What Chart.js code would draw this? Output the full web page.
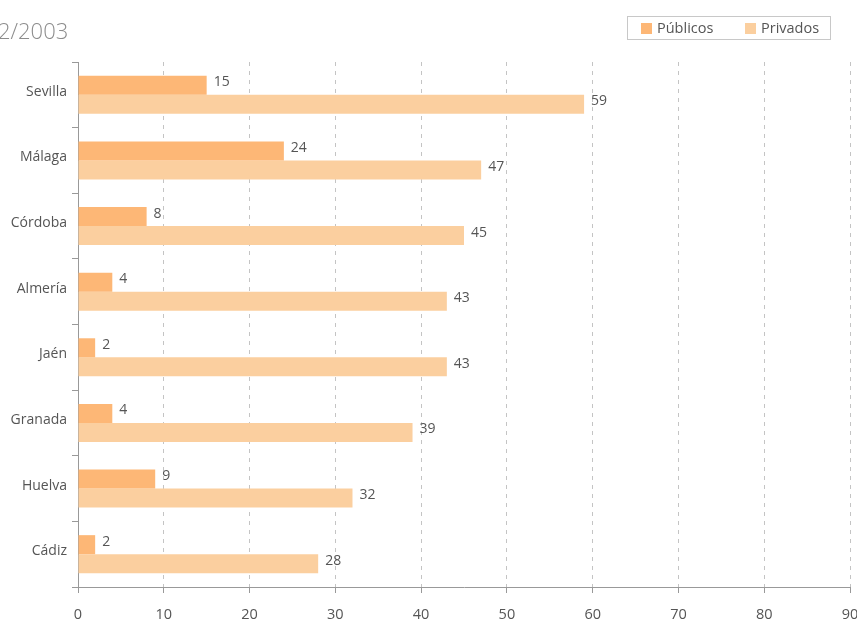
<!DOCTYPE html>
<html>
<head>
<meta charset="utf-8">
<script src="https://cdn.jsdelivr.net/npm/chart.js@4/dist/chart.umd.min.js"></script>
<style>
  html, body { margin: 0; padding: 0; background: #fff; }
  #wrap { position: relative; width: 857px; height: 621px; overflow: hidden; }
  #grafico { position: absolute; left: 0; top: 0; }
  #titulo {
    position: absolute; left: -2px; top: 15px;
    font-family: "Open Sans", sans-serif; font-size: 22px; font-weight: 300;
    color: #8c8c8c; white-space: nowrap;
  }
  #leyenda {
    position: absolute; left: 627px; top: 16px; width: 204px; height: 24px;
    border: 1px solid #c8c8c8; box-sizing: border-box;
    font-family: "Open Sans", sans-serif; font-size: 14.5px; color: #555;
  }
  #leyenda span.item { position: absolute; top: 1px; }
  #leyenda span.caja { display: inline-block; width: 11px; height: 11px; margin-right: 5px; vertical-align: -1px; }
</style>
</head>
<body>
<div id="wrap">
  <canvas id="grafico" width="857" height="621"></canvas>
  <div id="titulo">2/2003</div>
  <div id="leyenda">
    <span class="item" style="left:13px"><span class="caja" style="background:#fdb776"></span>Públicos</span>
    <span class="item" style="left:117px"><span class="caja" style="background:#fbcf9f"></span>Privados</span>
  </div>
</div>
<script>
// Datos del gráfico
const provincias = ['Sevilla', 'Málaga', 'Córdoba', 'Almería', 'Jaén', 'Granada', 'Huelva', 'Cádiz'];
const publicos = [15, 24, 8, 4, 2, 4, 9, 2];
const privados = [59, 47, 45, 43, 43, 39, 32, 28];
const ticksX = [0, 10, 20, 30, 40, 50, 60, 70, 80, 90];

const fuente = '"Open Sans", sans-serif';

// Etiquetas de valor al final de cada barra
const etiquetasValor = {
  id: 'etiquetasValor',
  afterDatasetsDraw(chart) {
    const ctx = chart.ctx;
    ctx.save();
    ctx.font = '14px ' + fuente;
    ctx.fillStyle = '#555';
    ctx.textBaseline = 'middle';
    ctx.textAlign = 'left';
    chart.data.datasets.forEach((ds, i) => {
      chart.getDatasetMeta(i).data.forEach((bar, j) => {
        ctx.fillText(ds.data[j], bar.x + 7, bar.y - 3);
      });
    });
    ctx.restore();
  }
};

const ctx = document.getElementById('grafico').getContext('2d');
const miGrafico = new Chart(ctx, {
  type: 'bar',
  data: {
    labels: provincias,
    datasets: [
      { label: 'Públicos', data: publicos, backgroundColor: '#fdb776', barPercentage: 1, categoryPercentage: 0.58 },
      { label: 'Privados', data: privados, backgroundColor: '#fbcf9f', barPercentage: 1, categoryPercentage: 0.58 }
    ]
  },
  options: {
    indexAxis: 'y',
    responsive: false,
    animation: false,
    layout: { padding: { top: 62, right: 0, left: 0, bottom: 0 } },
    plugins: { legend: { display: false }, tooltip: { enabled: false } },
    scales: {
      x: {
        min: 0, max: 90,
        afterBuildTicks(scale) { scale.ticks = ticksX.map(v => ({ value: v })); },
        afterFit(scale) { scale.height = 34; scale.paddingRight = 7; scale.paddingLeft = 0; },
        grid: { color: '#c4c4c4', lineWidth: 1, drawTicks: true, tickLength: 6, tickColor: '#999', tickBorderDash: [] },
        border: { display: true, color: '#999', width: 1, dash: [4, 5] },
        ticks: { color: '#555', font: { family: fuente, size: 14.5 }, padding: 13, maxRotation: 0 }
      },
      y: {
        afterFit(scale) { scale.width = 78; },
        grid: { drawOnChartArea: false, drawTicks: true, tickLength: 6, tickColor: '#999', offset: true },
        border: { display: true, color: '#999', width: 1 },
        ticks: { color: '#555', font: { family: fuente, size: 14 }, padding: 5, labelOffset: -3 }
      }
    }
  },
  plugins: [etiquetasValor]
});
</script>
</body>
</html>
